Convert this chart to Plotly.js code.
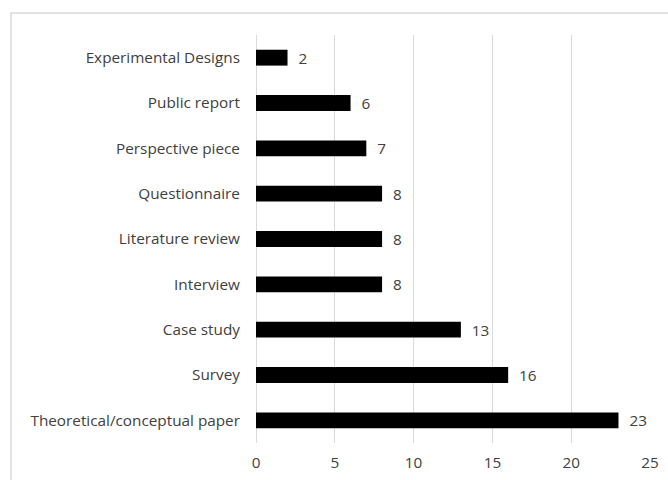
<!DOCTYPE html>
<html>
<head>
<meta charset="utf-8">
<script src="https://cdn.plot.ly/plotly-3.0.1.min.js"></script>
<style>
html,body{margin:0;padding:0;background:#fff;}
#chart{width:668px;height:480px;}
</style>
</head>
<body>
<div id="chart"></div>
<script>
const categories = ["Experimental Designs","Public report","Perspective piece","Questionnaire","Literature review","Interview","Case study","Survey","Theoretical/conceptual paper"];
const counts = [2,6,7,8,8,8,13,16,23];
const xTicks = [0,5,10,15,20,25];

const fontFam = "'Open Sans', 'Noto Sans', sans-serif";
const textColor = "#404040";
const fs = 15.3;

const trace = {
  type: "bar",
  orientation: "h",
  y: categories,
  x: counts,
  marker: {color: "#000000"},
  width: 0.35,
  text: counts.map(String),
  texttemplate: "  %{x}",
  textposition: "outside",
  constraintext: "none",
  cliponaxis: false,
  textfont: {family: fontFam, size: fs, color: textColor},
  hoverinfo: "skip"
};

const layout = {
  width: 668,
  height: 480,
  margin: {l: 256, r: 18, t: 35, b: 37, pad: 0},
  paper_bgcolor: "#ffffff",
  plot_bgcolor: "#ffffff",
  showlegend: false,
  font: {family: fontFam, size: fs, color: textColor},
  xaxis: {
    range: [0, 25],
    tickvals: xTicks,
    ticktext: xTicks.map(String),
    showgrid: true,
    gridcolor: "#d9d9d9",
    gridwidth: 1,
    zeroline: true,
    zerolinecolor: "#d9d9d9",
    zerolinewidth: 1,
    showline: false,
    ticks: "outside",
    ticklen: 6,
    tickcolor: "rgba(0,0,0,0)",
    tickfont: {family: fontFam, size: fs, color: textColor},
    fixedrange: true
  },
  yaxis: {
    autorange: "reversed",
    categoryorder: "array",
    categoryarray: categories,
    showgrid: false,
    zeroline: false,
    showline: false,
    ticks: "outside",
    ticklen: 12,
    tickcolor: "rgba(0,0,0,0)",
    tickfont: {family: fontFam, size: fs, color: textColor},
    fixedrange: true
  },
  shapes: [{
    type: "rect",
    xref: "paper", yref: "paper",
    x0: (11 - 256) / 394, x1: 1.2,
    y0: -0.3, y1: 1 + (35 - 13) / 408,
    line: {color: "#d9d9d9", width: 1.5},
    fillcolor: "rgba(0,0,0,0)",
    layer: "below"
  }]
};

Plotly.newPlot("chart", [trace], layout, {displayModeBar: false, staticPlot: true});
</script>
</body>
</html>
